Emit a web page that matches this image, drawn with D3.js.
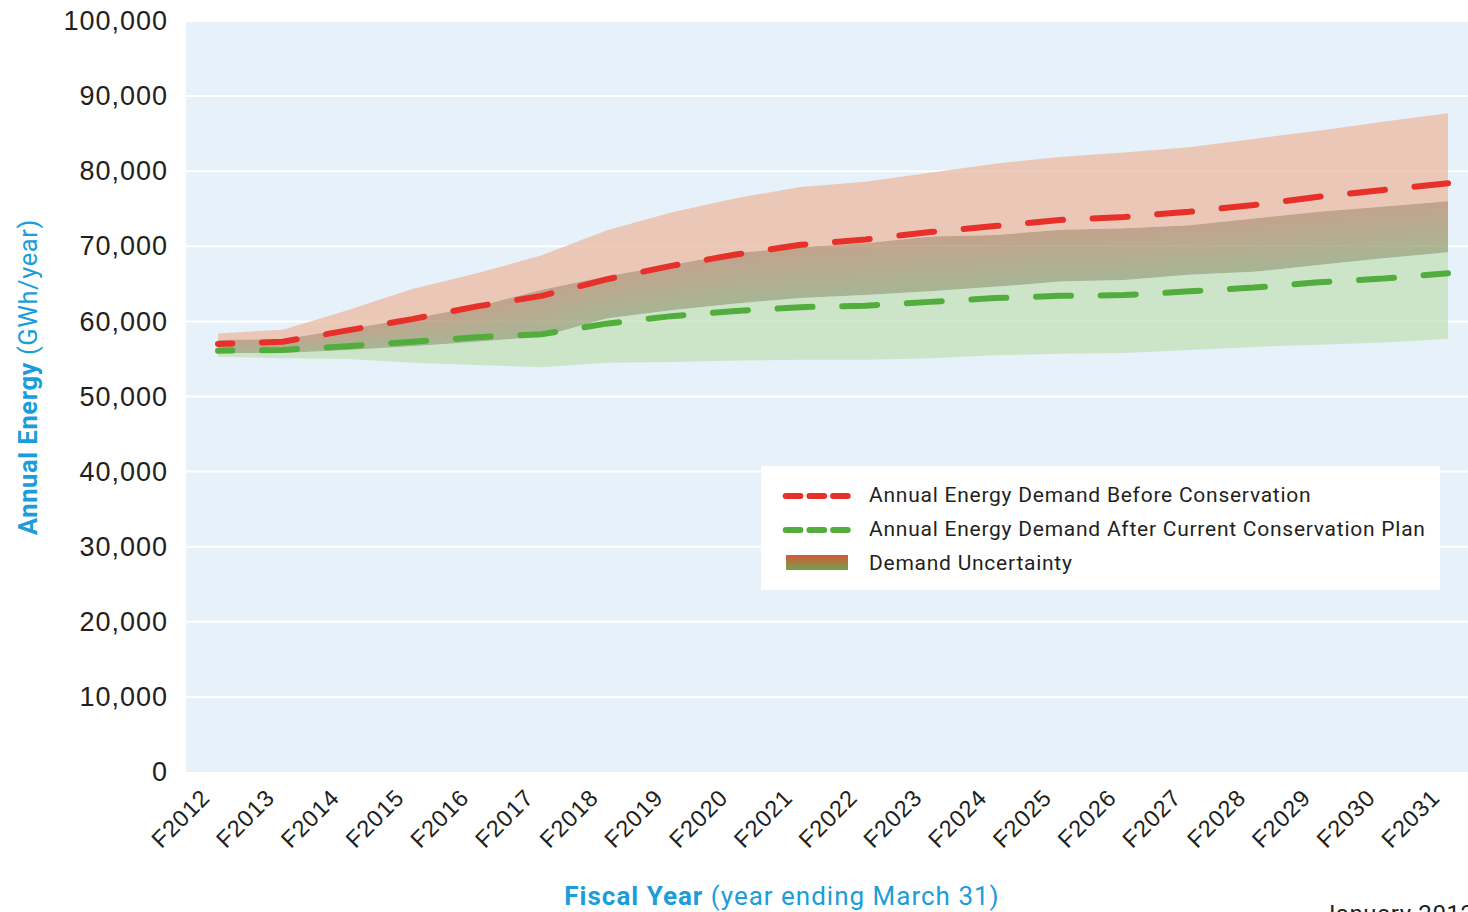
<!DOCTYPE html>
<html>
<head>
<meta charset="utf-8">
<script src="https://cdn.jsdelivr.net/npm/d3@7"></script>
<style>
  body { margin: 0; background: #fff; }
  svg { display: block; font-family: Roboto, "DejaVu Sans", sans-serif; }
</style>
</head>
<body>
<script>
// Fiscal years on the x axis
const years = ["F2012", "F2013", "F2014", "F2015", "F2016", "F2017", "F2018", "F2019", "F2020", "F2021",
               "F2022", "F2023", "F2024", "F2025", "F2026", "F2027", "F2028", "F2029", "F2030", "F2031"];

// Annual energy demand (GWh/year)
const beforeConservation = [57000, 57300, 58800, 60300, 62000, 63400, 65600, 67400, 68900, 70200,
                            70900, 71900, 72700, 73500, 73900, 74600, 75500, 76600, 77500, 78400];
const afterConservation = [56100, 56200, 56700, 57300, 57900, 58300, 59700, 60700, 61400, 61900,
                           62100, 62600, 63100, 63400, 63500, 64000, 64500, 65200, 65700, 66400];

// Uncertainty bands
const beforeHigh = [58400, 58900, 61500, 64300, 66400, 68800, 72100, 74500, 76400, 77900,
                    78600, 79800, 81000, 81900, 82500, 83200, 84300, 85400, 86600, 87700];
const beforeLow = [55800, 55800, 56200, 56700, 57300, 58000, 60400, 61500, 62400, 63100,
                   63500, 64000, 64600, 65300, 65500, 66200, 66600, 67500, 68400, 69200];
const afterHigh = [57500, 57600, 59000, 60400, 62000, 64200, 66000, 67500, 69100, 69900,
                   70400, 71300, 71500, 72200, 72400, 72800, 73700, 74600, 75300, 76000];
const afterLow = [55300, 55100, 55000, 54500, 54200, 53900, 54500, 54600, 54800, 54900,
                  54900, 55100, 55500, 55700, 55800, 56200, 56600, 56900, 57200, 57700];

const yTicks = [0, 10000, 20000, 30000, 40000, 50000, 60000, 70000, 80000, 90000, 100000];

const legendLabels = ["Annual Energy Demand Before Conservation",
                      "Annual Energy Demand After Current Conservation Plan",
                      "Demand Uncertainty"];

const rows = years.map((y, i) => ({
    year: y,
    before: beforeConservation[i],
    after: afterConservation[i],
    bHigh: beforeHigh[i],
    bLow: beforeLow[i],
    aHigh: afterHigh[i],
    aLow: afterLow[i]
}));

const W = 1468, H = 912;
const plot = { left: 186, right: 1468, top: 21, bottom: 772 };
const blue = "#1b9dd9";
const ink = "#231f20";

const svg = d3.select("body").append("svg")
    .attr("width", W)
    .attr("height", H);

const x = d3.scalePoint()
    .domain(years)
    .range([218, 1448]);

const y = d3.scaleLinear()
    .domain([0, 100000])
    .range([plot.bottom, plot.top]);

// Plot background
svg.append("rect")
    .attr("x", plot.left)
    .attr("y", plot.top)
    .attr("width", plot.right - plot.left)
    .attr("height", plot.bottom - plot.top)
    .attr("fill", "#e6f1fa");

// Horizontal gridlines
svg.append("g")
    .selectAll("line")
    .data(yTicks.filter(d => d > 0))
    .join("line")
    .attr("x1", plot.left)
    .attr("x2", plot.right)
    .attr("y1", d => y(d))
    .attr("y2", d => y(d))
    .attr("stroke", "#fff")
    .attr("stroke-width", 2);

// Bands: red only part, green only part, and the overlap in between
const bands = svg.append("g").attr("opacity", 0.7);

bands.append("path")
    .datum(rows)
    .attr("fill", "#ecb69c")
    .attr("d", d3.area().x(d => x(d.year)).y0(d => y(d.aHigh)).y1(d => y(d.bHigh)));

bands.append("path")
    .datum(rows)
    .attr("fill", "#c2e0b4")
    .attr("d", d3.area().x(d => x(d.year)).y0(d => y(d.aLow)).y1(d => y(d.bLow)));

// overlap gets a vertical blend from green (bottom) to brown (top);
// slices are opaque inside the group so their seams do not show
const N = 14;
const blend = d3.interpolateRgb("#8d9e6a", "#b58360");
bands.append("g")
    .selectAll("path")
    .data(d3.range(N))
    .join("path")
    .attr("fill", k => blend((k + 0.5) / N))
    .attr("d", k => d3.area()
        .x(d => x(d.year))
        .y0(d => y(d.bLow + (d.aHigh - d.bLow) * k / N))
        .y1(d => y(d.bLow + (d.aHigh - d.bLow) * (k + 1) / N) - (k < N - 1 ? 1 : 0))(rows));

// Dashed demand lines
const lineGen = key => d3.line().x(d => x(d.year)).y(d => y(d[key]));

svg.append("path")
    .datum(rows)
    .attr("d", lineGen("after"))
    .attr("fill", "none")
    .attr("stroke", "#52ae3c")
    .attr("stroke-width", 6)
    .attr("stroke-linecap", "round")
    .attr("stroke-dasharray", "35 29.7")
    .attr("stroke-dashoffset", 20.7);

svg.append("path")
    .datum(rows)
    .attr("d", lineGen("before"))
    .attr("fill", "none")
    .attr("stroke", "#e8302a")
    .attr("stroke-width", 6)
    .attr("stroke-linecap", "round")
    .attr("stroke-dasharray", "35 29.7")
    .attr("stroke-dashoffset", 20.7);

// Y axis labels
const yAxis = svg.append("g")
    .attr("transform", `translate(${plot.left},0)`)
    .call(d3.axisLeft(y).tickValues(yTicks).tickSize(0).tickPadding(18).tickFormat(d3.format(",")));
yAxis.select(".domain").remove();
yAxis.selectAll("text")
    .attr("fill", ink)
    .style("font-size", "27px")
    .style("letter-spacing", "1px");

// X axis labels, rotated
const xAxis = svg.append("g")
    .attr("transform", `translate(0,${plot.bottom})`)
    .call(d3.axisBottom(x).tickSize(0));
xAxis.select(".domain").remove();
xAxis.selectAll("text")
    .attr("y", null)
    .attr("dy", null)
    .attr("transform", "translate(-7,27) rotate(-45)")
    .attr("text-anchor", "end")
    .attr("fill", ink)
    .style("font-size", "23.5px")
    .style("letter-spacing", "0.9px");

// Axis titles
const yTitle = svg.append("text")
    .attr("transform", "translate(37,377) rotate(-90)")
    .attr("text-anchor", "middle")
    .attr("fill", blue)
    .style("font-size", "25.5px")
    .style("letter-spacing", "0.6px");
yTitle.append("tspan").attr("font-weight", "bold").text("Annual Energy");
yTitle.append("tspan").text(" (GWh/year)");

const xTitle = svg.append("text")
    .attr("x", 782)
    .attr("y", 905)
    .attr("text-anchor", "middle")
    .attr("fill", blue)
    .style("font-size", "26px")
    .style("letter-spacing", "1px");
xTitle.append("tspan").attr("font-weight", "bold").text("Fiscal Year");
xTitle.append("tspan").text(" (year ending March 31)");

svg.append("text")
    .attr("x", 1322)
    .attr("y", 922)
    .attr("fill", ink)
    .style("font-size", "24px")
    .style("letter-spacing", "0.6px")
    .text("January 2012");

// Legend
const legend = svg.append("g");
legend.append("rect")
    .attr("x", 761)
    .attr("y", 466)
    .attr("width", 679)
    .attr("height", 124)
    .attr("fill", "#fff");

const grad = svg.append("defs").append("linearGradient")
    .attr("id", "unc")
    .attr("x1", 0).attr("y1", 0).attr("x2", 0).attr("y2", 1);
grad.append("stop").attr("offset", "0%").attr("stop-color", "#d9563a");
grad.append("stop").attr("offset", "100%").attr("stop-color", "#6ea34b");

[["#e8302a", 496], ["#52ae3c", 530]].forEach(([c, ly]) => {
    legend.append("line")
        .attr("x1", 785.7).attr("x2", 847.7)
        .attr("y1", ly).attr("y2", ly)
        .attr("stroke", c)
        .attr("stroke-width", 6)
        .attr("stroke-linecap", "round")
        .attr("stroke-dasharray", "14.7 9");
});

legend.append("rect")
    .attr("x", 786)
    .attr("y", 555)
    .attr("width", 62)
    .attr("height", 15)
    .attr("fill", "url(#unc)");

legend.selectAll(".lbl")
    .data(legendLabels)
    .join("text")
    .attr("class", "lbl")
    .attr("x", 869)
    .attr("y", (d, i) => 502 + i * 34)
    .attr("fill", ink)
    .style("font-size", "21px")
    .style("letter-spacing", "0.75px")
    .text(d => d);
</script>
</body>
</html>
